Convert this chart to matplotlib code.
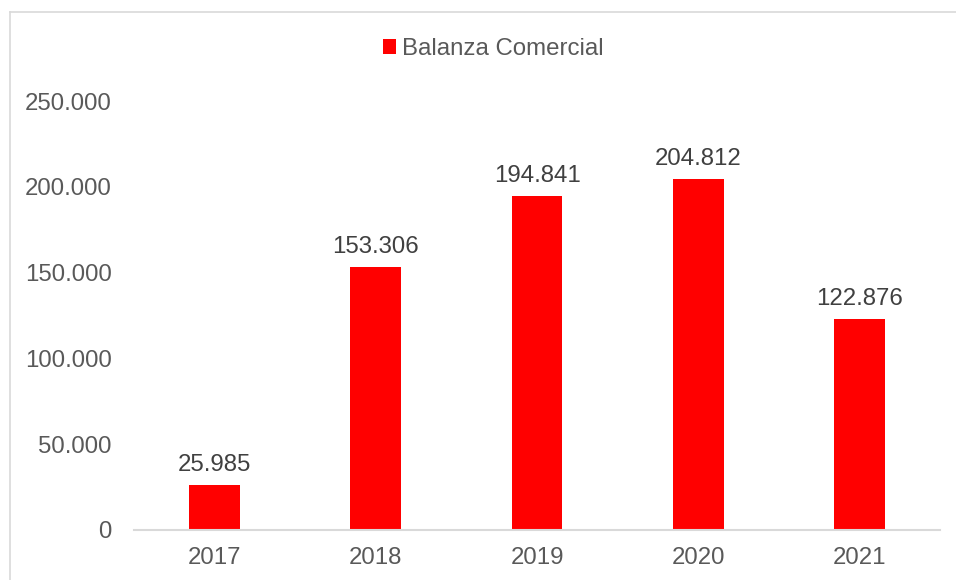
import matplotlib.pyplot as plt
from matplotlib.lines import Line2D
from matplotlib.ticker import FuncFormatter

anios = ['2017', '2018', '2019', '2020', '2021']
balanza = [25985, 153306, 194841, 204812, 122876]
ticks_y = [0, 50000, 100000, 150000, 200000, 250000]

rojo = '#ff0000'
gris = '#595959'
tam = 17.3

plt.rcParams['font.family'] = ['Liberation Sans', 'DejaVu Sans']

def miles(v, pos=None):
    return f'{int(v):,}'.replace(',', '.')

fig = plt.figure(figsize=(9.56, 5.8), dpi=100)
ax = fig.add_axes([134/956, 50/580, 806/956, 429/580])

x = range(len(anios))
barras = ax.bar(x, balanza, width=0.316, color=rojo, label='Balanza Comercial')

for b, v in zip(barras, balanza):
    ax.annotate(miles(v), (b.get_x() + b.get_width()/2, v), xytext=(0, 6.5),
                textcoords='offset points', ha='center', va='bottom',
                fontsize=tam, color='#404040')

ax.set_xlim(-0.5, len(anios) - 0.5)
ax.set_ylim(0, 250000)
ax.set_xticks(list(x))
ax.set_xticklabels(anios)
ax.set_yticks(ticks_y)
ax.yaxis.set_major_formatter(FuncFormatter(miles))
ax.tick_params(axis='both', length=0, labelsize=tam, labelcolor=gris)
ax.tick_params(axis='y', pad=16)
ax.tick_params(axis='x', pad=12.5)

for lado in ['top', 'right', 'left']:
    ax.spines[lado].set_visible(False)
ax.spines['bottom'].set_color('#d9d9d9')
ax.spines['bottom'].set_linewidth(1.5)

leg = fig.legend(handles=[barras], labels=['Balanza Comercial'], loc='center',
                 bbox_to_anchor=(493/956, 1 - 49/580), frameon=False,
                 fontsize=tam, handlelength=0.55, handleheight=0.55,
                 handletextpad=0.25)
for t in leg.get_texts():
    t.set_color(gris)

# marco del grafico (bordes superior e izquierdo)
fig.add_artist(Line2D([10/956, 10/956], [0, 1 - 12/580], color='#d9d9d9', lw=1.2))
fig.add_artist(Line2D([10/956, 1], [1 - 12/580, 1 - 12/580], color='#d9d9d9', lw=1.2))

fig.savefig('out.png', dpi=100)
